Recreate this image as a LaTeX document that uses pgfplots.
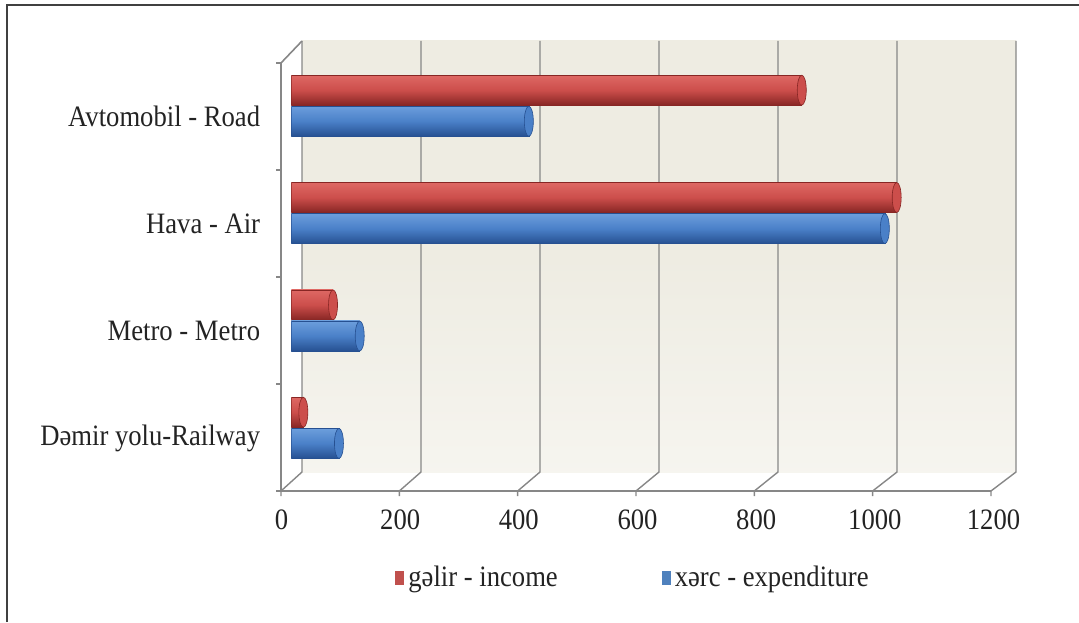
\documentclass[border=0pt]{standalone}
\usepackage{pgfplots}
\pgfplotsset{compat=1.18}
\usepackage{pgfplotstable}
\usepackage{fontspec}
\setmainfont{Liberation Serif}[FakeStretch=0.9]

\definecolor{wall}{RGB}{238,236,226}
\definecolor{gridc}{RGB}{135,135,135}
\definecolor{redT}{RGB}{222,104,100}
\definecolor{redM}{RGB}{204,78,75}
\definecolor{redB}{RGB}{135,38,36}
\definecolor{redL}{RGB}{192,80,77}
\definecolor{bluT}{RGB}{108,158,220}
\definecolor{bluM}{RGB}{74,128,200}
\definecolor{bluB}{RGB}{38,80,145}
\definecolor{bluL}{RGB}{79,129,189}
\definecolor{txt}{RGB}{35,35,35}

% pos: 0 = Railway ... 3 = Road
\pgfplotstableread{
pos inc exp
0   20  80
1   70  115
2   1020 1000
3   860 400
}\data

% pixel grid of the reference, y pointing down, origin at the axis corner
\tikzset{pix/.style={x=0.5pt, y=-0.5pt, shift={(-145.75pt,240.75pt)}}}

\begin{document}
\fontsize{14.8}{17}\selectfont
\begin{tikzpicture}
% back wall, floor edges and grid
\begin{scope}[pix]
  \shade[top color=wall, bottom color=wall!55!white, middle color=wall]
    (302,41) rectangle (1016,472);
  \foreach \k in {0,...,6} {
    \pgfmathsetmacro\xb{302+119*\k}
    \pgfmathsetmacro\xf{281+118.33*\k}
    \draw[gridc, line width=0.7pt] (\xb,41) -- (\xb,472) -- (\xf,491) -- (\xf,496);
  }
  \draw[gridc, line width=0.8pt] (281,491) -- (991,491);
  \draw[gridc, line width=0.8pt] (302,41) -- (281,63) -- (281,491);
  \foreach \y in {63,170,277,384,491} \draw[gridc, line width=0.7pt] (276,\y) -- (281,\y);
\end{scope}

\begin{axis}[
  scale only axis,
  width=356pt, height=214.75pt,
  xmin=0, xmax=1200,
  ymin=-0.5, ymax=3.5,
  xtick={0,200,...,1200},
  ytick={0,1,2,3},
  yticklabels={Dəmir yolu-Railway, Metro - Metro, Hava - Air, Avtomobil - Road},
  axis line style={draw=none},
  major tick style={draw=none},
  /pgf/number format/assume math mode=true,
  /pgf/number format/1000 sep={},
  xticklabel style={anchor=center, xshift=-5pt, yshift=-19.25pt, text=txt},
  yticklabel style={anchor=east, xshift=-15.5pt, yshift=-5.5pt, inner sep=0pt, text=txt},
  bar width=0.28,
  legend style={at={(0.481,-0.225)}, anchor=center, draw=none, fill=none,
    legend columns=2, text=txt,
    /tikz/every even column/.append style={column sep=50pt}},
  legend image code/.code={\fill[#1, draw=none] (1pt,-3.2pt) rectangle (5.5pt,3.8pt);},
]
% one plot per bar, so that each cylinder gets its own shading
\pgfplotsinvokeforeach{-0.2:0.2, 0.8:1.2, 1.8:2.2, 2.8:3.2}{
  \addplot[xbar, bar shift=0.145, draw=redB, line width=0.3pt,
    top color=redT, bottom color=redB, middle color=redM, forget plot,
    restrict y to domain=#1]
    table[x=inc, y=pos] {\data};
  \addplot[xbar, bar shift=-0.145, draw=bluB, line width=0.3pt,
    top color=bluT, bottom color=bluB, middle color=bluM, forget plot,
    restrict y to domain=#1]
    table[x=exp, y=pos] {\data};
}
% cylinder caps at the bar ends
\addplot[only marks, mark=*, mark size=7.5pt,
  mark options={xscale=0.3, fill=redM, draw=redB, line width=0.3pt}, forget plot]
  table[x=inc, y expr=\thisrow{pos}+0.145] {\data};
\addplot[only marks, mark=*, mark size=7.5pt,
  mark options={xscale=0.3, fill=bluM, draw=bluB, line width=0.3pt}, forget plot]
  table[x=exp, y expr=\thisrow{pos}-0.145] {\data};
\addlegendimage{fill=redL}
\addlegendentry{gəlir - income}
\addlegendimage{fill=bluL}
\addlegendentry{xərc - expenditure}
\end{axis}

% outer frame and page size
\begin{scope}[pix]
  \draw[black!75, line width=1pt] (7,622) -- (7,5) -- (1079,5);
  \pgfresetboundingbox
  \path[use as bounding box] (0,0) rectangle (1079,622);
\end{scope}
\end{tikzpicture}
\end{document}
